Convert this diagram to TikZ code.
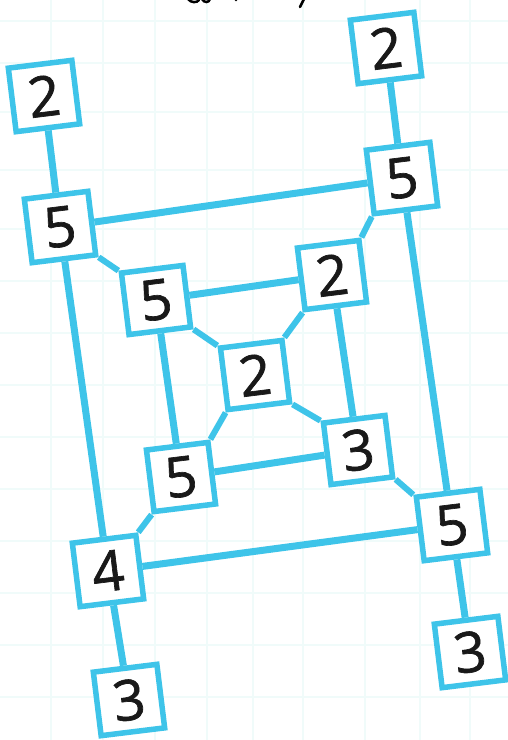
\documentclass[tikz,border=0pt]{standalone}
\usepackage{fontspec}
\setmainfont{Open Sans}
\newfontfamily\digitfont[FakeBold=1.2]{Open Sans}
\pgfdeclarelayer{back}
\pgfsetlayers{back,main}
\definecolor{lineblue}{RGB}{62,196,233}
\definecolor{gridc}{RGB}{240,251,250}
\begin{document}
\begin{tikzpicture}[x=1pt,y=-1pt,
  box/.style={draw=lineblue,line width=5.5pt,fill=white,rotate=7,minimum size=64pt,inner sep=0pt,
    font=\digitfont\fontsize{56}{56}\selectfont,text=black!90},
  ibox/.style={box,minimum size=62pt},
  conn/.style={draw=lineblue,line width=7pt},
  diag/.style={draw=lineblue,line width=6pt}]
\useasboundingbox (0,0) rectangle (508,740);
\begin{pgfonlayer}{back}
\fill[white] (0,0) rectangle (508,740);
\foreach \gx in {51,103,155,207,253,303,365,420,470}
  \draw[gridc,line width=2pt] (\gx,0) -- (\gx,740);
\foreach \gy in {21,63,112,170,229,281,333,385,437,489,541,593,645,697}
  \draw[gridc,line width=2pt] (0,\gy) -- (508,\gy);
\end{pgfonlayer}
% cut-off text fragments at the top
\draw[black,line width=2.5pt,line cap=round] (188,-1) .. controls (191,3) and (197,3) .. (199,0);
\draw[black,line width=2.5pt,line cap=round] (202,-1) .. controls (204,3) and (209,3) .. (210,-1);
\fill[black] (236,0) circle (1.3pt);
\draw[black,line width=2.5pt,line cap=round] (304,-1) -- (300,7);
% nodes
\node[box]  (L2) at (44,96)   {2};
\node[box]  (L5) at (60,227)  {5};
\node[box]  (R2) at (386,48)  {2};
\node[box]  (R5) at (402,178) {5};
\node[ibox] (I5) at (156,300) {5};
\node[ibox] (I2) at (332,275) {2};
\node[ibox] (C2) at (255,375) {2};
\node[ibox] (I3) at (358,450) {3};
\node[ibox] (J5) at (181,477) {5};
\node[box]  (B4) at (108,571) {4};
\node[box]  (B5) at (452,525) {5};
\node[box]  (B3) at (129,700) {3};
\node[box]  (R3) at (470,652) {3};
\begin{pgfonlayer}{back}
\draw[conn] (L2) -- (L5);
\draw[conn] (L5) -- (B4);
\draw[conn] (B4) -- (B3);
\draw[conn] (R2) -- (R5);
\draw[conn] (R5) -- (B5);
\draw[conn] (B5) -- (R3);
\draw[conn] (L5) -- (R5);
\draw[conn] (B4) -- (B5);
\draw[conn] (I5) -- (I2);
\draw[conn] (J5) -- (I3);
\draw[conn] (I5) -- (J5);
\draw[conn] (I2) -- (I3);
\draw[diag] (L5.south east) -- (I5.north west);
\draw[diag] (R5.south west) -- (I2.north east);
\draw[diag] (I3.south east) -- (B5.north west);
\draw[diag] (J5.south west) -- (B4.north east);
\draw[diag] (I5.south east) -- (C2.north west);
\draw[diag] (I2.south west) -- (C2.north east);
\draw[diag] (C2.south east) -- (I3.north west);
\draw[diag] (C2.south west) -- (J5.north east);
\end{pgfonlayer}
\end{tikzpicture}
\end{document}
